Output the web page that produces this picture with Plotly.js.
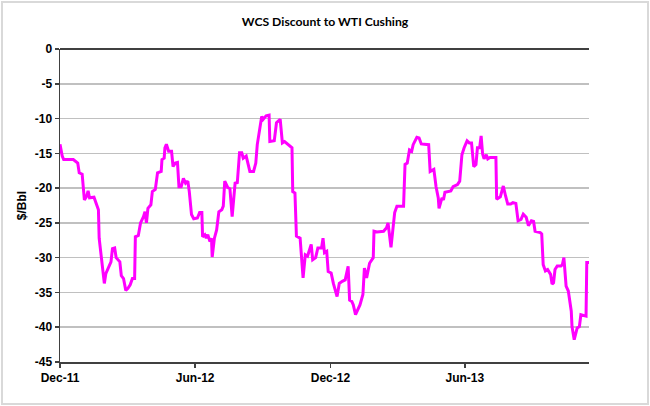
<!DOCTYPE html>
<html>
<head>
<meta charset="utf-8">
<script src="https://cdn.plot.ly/plotly-3.0.1.min.js"></script>
<style>
  html, body { margin: 0; padding: 0; background: #ffffff; }
  #wrap { position: relative; width: 650px; height: 406px; }
  #chart { width: 650px; height: 406px; }
  #frame { position: absolute; left: 1px; top: 1px; width: 644px; height: 400px;
           border: 2px solid #d9d9d9; pointer-events: none; }
</style>
</head>
<body>
<div id="wrap"><div id="chart"></div><div id="frame"></div></div>
<script>
const chartTitle = "WCS Discount to WTI Cushing";
const yAxisTitle = "$/Bbl";

const dates = [
  "2011-12-01","2011-12-04","2011-12-06","2011-12-19","2011-12-25","2011-12-27","2011-12-31",
  "2012-01-03","2012-01-06","2012-01-08","2012-01-10","2012-01-16","2012-01-19","2012-01-22","2012-01-23","2012-01-26","2012-01-30",
  "2012-02-01","2012-02-04","2012-02-08","2012-02-10","2012-02-13","2012-02-15","2012-02-20","2012-02-22","2012-02-25","2012-02-28",
  "2012-03-02","2012-03-05","2012-03-08","2012-03-11","2012-03-12","2012-03-16","2012-03-19","2012-03-23","2012-03-25","2012-03-27","2012-03-29",
  "2012-04-02","2012-04-04","2012-04-08","2012-04-11","2012-04-16","2012-04-17","2012-04-20","2012-04-21","2012-04-23","2012-04-26","2012-04-30",
  "2012-05-02","2012-05-05","2012-05-08","2012-05-10","2012-05-13","2012-05-16","2012-05-19","2012-05-22","2012-05-24","2012-05-27","2012-05-30",
  "2012-06-04","2012-06-07","2012-06-10","2012-06-11","2012-06-14","2012-06-16","2012-06-18","2012-06-21","2012-06-23","2012-06-24","2012-06-27","2012-06-30",
  "2012-07-03","2012-07-07","2012-07-09","2012-07-11","2012-07-15","2012-07-18","2012-07-21","2012-07-25","2012-07-28","2012-07-31",
  "2012-08-03","2012-08-05","2012-08-09","2012-08-14","2012-08-19","2012-08-22","2012-08-24","2012-08-27","2012-08-30",
  "2012-09-01","2012-09-05","2012-09-09","2012-09-10","2012-09-16","2012-09-19","2012-09-24","2012-09-27","2012-09-30",
  "2012-10-05","2012-10-10","2012-10-11","2012-10-14","2012-10-16","2012-10-21","2012-10-25","2012-10-28","2012-10-31",
  "2012-11-05","2012-11-07","2012-11-11","2012-11-14","2012-11-19","2012-11-21","2012-11-23","2012-11-26","2012-11-28",
  "2012-12-02","2012-12-05","2012-12-10","2012-12-13","2012-12-17","2012-12-21","2012-12-25","2012-12-27","2012-12-30",
  "2013-01-01","2013-01-04","2013-01-08","2013-01-10","2013-01-14","2013-01-16","2013-01-19","2013-01-23","2013-01-28","2013-01-29",
  "2013-02-02","2013-02-11","2013-02-15","2013-02-17","2013-02-21","2013-02-24","2013-02-26",
  "2013-03-01","2013-03-10","2013-03-12","2013-03-15","2013-03-18","2013-03-21","2013-03-23","2013-03-28","2013-03-31",
  "2013-04-03","2013-04-13","2013-04-15","2013-04-20","2013-04-23","2013-04-26","2013-04-27",
  "2013-05-01","2013-05-03","2013-05-05","2013-05-13","2013-05-16","2013-05-22","2013-05-25","2013-05-28","2013-05-31",
  "2013-06-04","2013-06-07","2013-06-10","2013-06-13","2013-06-16","2013-06-18","2013-06-21","2013-06-23","2013-06-25","2013-06-27","2013-06-30",
  "2013-07-02","2013-07-05","2013-07-13","2013-07-14","2013-07-19","2013-07-23","2013-07-26","2013-07-29",
  "2013-08-02","2013-08-05","2013-08-09","2013-08-12","2013-08-16","2013-08-19","2013-08-23","2013-08-26","2013-08-30",
  "2013-09-02","2013-09-04","2013-09-11","2013-09-13","2013-09-15","2013-09-18","2013-09-21","2013-09-25","2013-09-27","2013-09-29",
  "2013-10-01","2013-10-04","2013-10-09","2013-10-11","2013-10-13","2013-10-16","2013-10-19","2013-10-23","2013-10-24","2013-10-27","2013-10-31",
  "2013-11-03","2013-11-05","2013-11-12","2013-11-13","2013-11-16"
];

const discount = [
  -13.7,-15.4,-15.9,-15.9,-16.4,-17.8,-18.0,
  -21.7,-21.2,-20.4,-21.4,-21.3,-22.2,-23.1,-27.2,-30.1,-33.7,
  -32.3,-31.5,-30.6,-28.7,-28.6,-30.0,-30.6,-32.6,-33.0,-34.7,
  -34.4,-33.9,-33.0,-33.0,-27.0,-26.8,-25.0,-24.1,-23.4,-25.0,-22.9,
  -22.4,-20.5,-20.2,-17.8,-17.6,-15.9,-15.7,-14.2,-13.7,-14.7,-14.7,
  -16.9,-16.4,-16.3,-19.8,-19.8,-18.6,-19.3,-19.0,-20.5,-23.8,-24.4,
  -24.3,-23.5,-23.5,-27.0,-26.7,-27.2,-26.7,-27.7,-27.2,-29.9,-27.2,-26.0,
  -23.4,-23.1,-22.6,-19.0,-19.9,-20.1,-24.1,-19.3,-19.2,-14.9,
  -14.9,-15.7,-15.4,-17.6,-17.6,-16.4,-13.75,-11.35,-9.7,
  -10.1,-9.6,-9.5,-13.3,-13.2,-10.6,-10.1,-13.5,-13.3,
  -13.75,-14.2,-20.5,-20.7,-26.9,-27.2,-32.9,-29.6,-29.8,
  -28.1,-30.3,-30.0,-28.6,-28.6,-27.2,-29.3,-29.1,-32.0,
  -32.2,-33.7,-35.6,-33.7,-33.4,-33.2,-31.25,-36.1,-36.3,
  -36.8,-38.2,-37.3,-36.8,-35.3,-31.5,-32.9,-30.8,-30.0,-26.2,
  -26.3,-26.2,-25.7,-25.0,-28.5,-25.8,-23.5,
  -22.6,-22.6,-16.6,-16.4,-14.5,-14.7,-13.75,-12.7,-12.8,
  -13.65,-13.75,-17.6,-17.3,-19.8,-21.4,-22.9,
  -21.4,-21.7,-20.6,-20.4,-19.8,-19.5,-19.0,-15.2,-14.2,
  -13.2,-13.5,-13.5,-16.9,-16.6,-14.2,-14.2,-12.5,-15.1,-15.8,-15.2,
  -15.8,-15.6,-15.6,-21.6,-21.25,-19.7,-21.1,-22.3,
  -22.3,-22.1,-22.2,-24.7,-24.5,-23.75,-24.2,-25.4,-24.7,
  -24.8,-26.2,-26.4,-26.6,-31.0,-31.9,-31.7,-32.4,-33.8,-33.6,
  -31.7,-31.2,-31.2,-31.0,-30.0,-34.1,-34.8,-37.7,-39.9,-41.8,-40.1,
  -39.9,-38.2,-38.4,-30.7,-30.7
];

const xTickDates = ["2011-12-01","2012-06-01","2012-12-01","2013-06-01"];
const xTickLabels = ["Dec-11","Jun-12","Dec-12","Jun-13"];
const yTickValues = [0,-5,-10,-15,-20,-25,-30,-35,-40,-45];
const yTickLabels = ["0","-5","-10","-15","-20","-25","-30","-35","-40","-45"];

const trace = {
  x: dates,
  y: discount,
  type: "scatter",
  mode: "lines",
  line: { color: "#ff00ff", width: 3 },
  hoverinfo: "skip"
};

const tickFont = { family: "Arial, Liberation Sans, sans-serif", size: 12, color: "#000000", weight: "bold" };

const layout = {
  width: 650,
  height: 406,
  margin: { l: 60, r: 61, t: 49, b: 44 },
  paper_bgcolor: "#ffffff",
  plot_bgcolor: "#ffffff",
  showlegend: false,
  title: {
    text: "<b>" + chartTitle + "</b>",
    font: { family: "Lato, Open Sans, sans-serif", size: 12.2, color: "#000000" },
    x: 0.5, xanchor: "center", y: 0.946, yanchor: "middle"
  },
  xaxis: {
    type: "date",
    range: [dates[0], dates[dates.length - 1]],
    tickvals: xTickDates,
    ticktext: xTickLabels,
    showgrid: false,
    zeroline: false,
    showline: true,
    linecolor: "#404040",
    linewidth: 1.5,
    ticks: "outside",
    ticklen: 4,
    tickwidth: 1.5,
    tickcolor: "#404040",
    tickfont: tickFont,
    fixedrange: true
  },
  yaxis: {
    range: [-45, 0],
    tickvals: yTickValues,
    ticktext: yTickLabels,
    showgrid: true,
    gridcolor: "#c0c0c0",
    gridwidth: 1.5,
    zeroline: true,
    zerolinecolor: "#404040",
    zerolinewidth: 2,
    showline: true,
    linecolor: "#404040",
    linewidth: 1.5,
    ticks: "outside",
    ticklen: 4,
    tickwidth: 1.5,
    tickcolor: "#404040",
    tickfont: tickFont,
    title: {
      text: "<b>" + yAxisTitle + "</b>",
      font: { family: "Arial, Liberation Sans, sans-serif", size: 12, color: "#000000" },
      standoff: 5
    },
    fixedrange: true
  }
};

Plotly.newPlot("chart", [trace], layout, { displayModeBar: false, staticPlot: true });
</script>
</body>
</html>
